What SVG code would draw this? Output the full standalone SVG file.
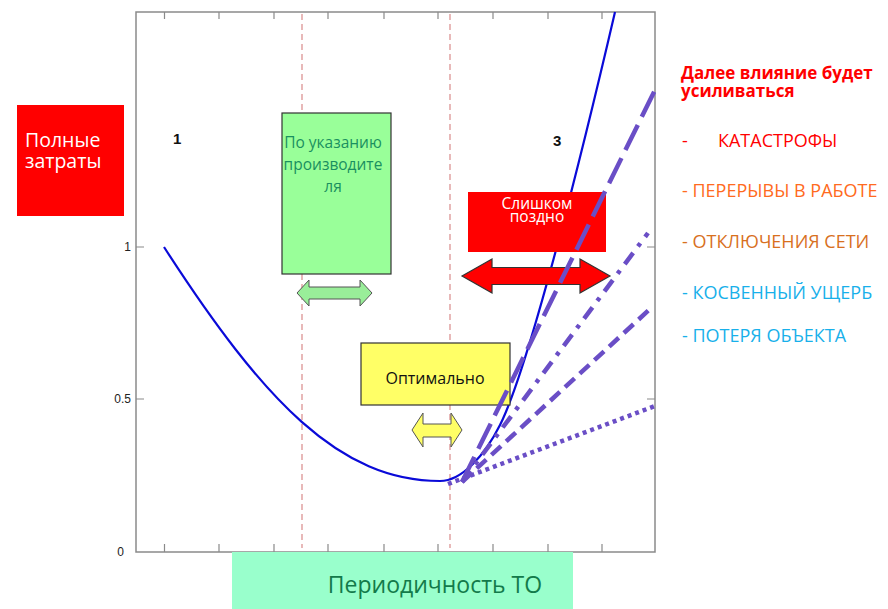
<svg xmlns="http://www.w3.org/2000/svg" width="888" height="609" viewBox="0 0 888 609">
<style>
.ax{stroke:#8a8a8a;stroke-width:1.5;fill:none}
.tk{stroke:#8a8a8a;stroke-width:1.2}
.vl{stroke:#d98a8a;stroke-width:1.2;stroke-dasharray:6 4;fill:none}
.lbl{font-family:"Liberation Sans",Arial,sans-serif;font-size:12px;fill:#222;text-anchor:end}
.reg{font-family:"Liberation Sans",Arial,sans-serif;font-size:15px;font-weight:bold;fill:#111}
.pur{stroke:#6a4ec6;stroke-width:4.5;fill:none}
.t{font-family:"Open Sans","Noto Sans",sans-serif}
.box{stroke:#333;stroke-width:1.2}
</style>
<rect width="888" height="609" fill="#fff"/>
<g id="axes">
<rect class="ax" x="136" y="12" width="519" height="540"/>
<g class="tk">
<path d="M164.5,552v-8M219,552v-8M274,552v-8M328,552v-8M384,552v-8M438,552v-8M493,552v-8M548,552v-8M602,552v-8"/>
<path d="M164.5,12v7M219,12v7M274,12v7M328,12v7M384,12v7M438,12v7M493,12v7M548,12v7M602,12v7"/>
<path d="M136,247h8M136,399h8M655,247h-8M655,399h-8"/>
</g>
<text class="lbl" x="131" y="251">1</text>
<text class="lbl" x="131" y="403">0.5</text>
<text class="lbl" x="124" y="556">0</text>
<text class="reg" x="173" y="144">1</text>
<text class="reg" x="553" y="146">3</text>
</g>
<g id="guides">
<line class="vl" x1="302" y1="14" x2="302" y2="548"/>
<line class="vl" x1="450" y1="14" x2="450" y2="548"/>
</g>
<g id="cost-curve">
<path d="M164,247 C264,402 340,481 440,481 C462,481 485,455 500,425 C530,365 585,141 615,12" fill="none" stroke="#0a0ad8" stroke-width="2.2"/>
</g>
<g id="full-costs">
<rect x="17" y="105" width="107" height="111" fill="#ff0000"/>
<text class="t" x="25" y="147" font-size="19.5" fill="#fff">Полные</text>
<text class="t" x="25" y="168" font-size="19.5" fill="#fff">затраты</text>
</g>
<g id="manufacturer">
<rect class="box" x="282" y="113" width="109" height="161" fill="#99ff99"/>
<g class="t" font-size="15.5" fill="#1a9060" text-anchor="middle">
<text x="333" y="148">По указанию</text>
<text x="333" y="170">производите</text>
<text x="333" y="192">ля</text>
</g>
</g>
<g id="manufacturer-arrow">
<polygon points="297,293 309,280 309,287 360,287 360,280 372,293 360,306 360,299 309,299 309,306" fill="#99ee99" stroke="#555" stroke-width="1"/>
</g>
<g id="optimal">
<rect class="box" x="361" y="343" width="149" height="62" fill="#ffff66"/>
<text class="t" x="435" y="384" font-size="16" fill="#111" text-anchor="middle">Оптимально</text>
</g>
<g id="optimal-arrow">
<polygon points="412,430 423,413 423,424 451,424 451,413 462,430 451,447 451,437 423,437 423,447" fill="#ffff66" stroke="#555" stroke-width="1"/>
</g>
<g id="too-late">
<rect x="468" y="192" width="138" height="60" fill="#ff0000"/>
<text class="t" x="537" y="209" font-size="15.5" fill="#fff" text-anchor="middle">Слишком</text>
<text class="t" x="537" y="222" font-size="15.5" fill="#fff" text-anchor="middle">поздно</text>
</g>
<g id="too-late-arrow">
<polygon points="462,276 492,259 492,267.5 580,267.5 580,259 610,276 580,293 580,284.5 492,284.5 492,293" fill="#ff0000" stroke="#333" stroke-width="1.2"/>
</g>
<g id="connectors">
<path class="pur" d="M462,482 L655,90" stroke-dasharray="28 9"/>
<path class="pur" d="M462,482 L648,233" stroke-dasharray="14 8 4 8"/>
<path class="pur" d="M462,482 L650,309" stroke-dasharray="13 7"/>
<path class="pur" d="M448,484 L655,406" stroke-dasharray="4 4"/>
</g>
<g id="effects" class="t">
<text x="681" y="79" font-size="17" font-weight="bold" fill="#ff0000">Далее влияние будет</text>
<text x="681" y="97" font-size="17" font-weight="bold" fill="#ff0000">усиливаться</text>
<text x="682" y="147" font-size="18" fill="#ff0000">-</text>
<text x="718" y="147" font-size="18" fill="#ff0000">КАТАСТРОФЫ</text>
<text x="682" y="197" font-size="18" fill="#ff6a20">- ПЕРЕРЫВЫ В РАБОТЕ</text>
<text x="682" y="248" font-size="18" fill="#d8701e">- ОТКЛЮЧЕНИЯ СЕТИ</text>
<text x="682" y="299" font-size="18" fill="#18b0ea">- КОСВЕННЫЙ УЩЕРБ</text>
<text x="682" y="342" font-size="18" fill="#18b0ea">- ПОТЕРЯ ОБЪЕКТА</text>
</g>
<g id="x-title">
<rect x="232" y="552" width="341" height="57" fill="#99ffcc"/>
<text class="t" x="435" y="593" font-size="23" fill="#137a4a" text-anchor="middle">Периодичность ТО</text>
</g>
</svg>
